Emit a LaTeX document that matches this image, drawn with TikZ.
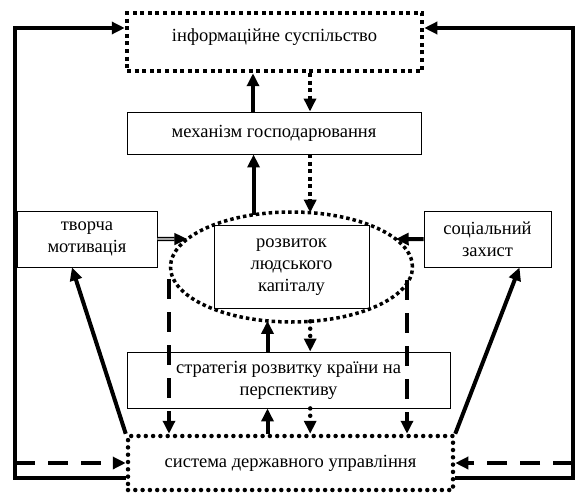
\documentclass[tikz,border=0pt]{standalone}
\usepackage{fontspec}
\setmainfont{Liberation Serif}
\usetikzlibrary{arrows.meta, shapes.geometric}

\begin{document}
\begin{tikzpicture}[x=1pt, y=-1pt, >={Triangle[width=12pt,length=13pt]},
    every node/.style={font=\fontsize{18.5}{22}\selectfont}]
  \tikzset{block/.style={draw, line width=0.9pt, inner sep=2pt, align=center},
    heavy/.style={line width=4pt},
    sqdots/.style={line width=4.5pt, dash pattern=on 4pt off 3.5pt},
    rddots/.style={line width=4.5pt, line cap=round, dash pattern=on 0pt off 7.3pt},
    longdash/.style={line width=4.5pt, dash pattern=on 20pt off 13pt}}
  \useasboundingbox (0,0) rectangle (575,497);

  \node[block, line width=4.5pt, dash pattern=on 4pt off 3.6pt, minimum width=295pt, minimum height=58pt, text height=13pt, text depth=14pt] (info) at (274.5,42) {інформаційне суспільство};
  \node[block, minimum width=294pt, minimum height=42pt] (mech) at (274,133) {механізм господарювання};
  \node[ellipse, draw, line width=3.5pt, dash pattern=on 3.5pt off 3pt, minimum width=242pt, minimum height=110pt, inner sep=0pt, outer sep=0pt] (ell) at (291.5,267) {};
  \node[block, minimum width=155pt, minimum height=83pt] (dev) at (ell.center) {розвиток\\людського\\капіталу};
  \node[block, minimum width=140pt, minimum height=56pt] (motiv) at (87,239) {творча\\мотивація};
  \node[block, minimum width=127pt, minimum height=56pt] (social) at (487.5,239) {соціальний\\захист};
  \node[block, minimum width=323pt, minimum height=56pt] (strat) at (288.5,380) {стратегія розвитку країни на\\перспективу};
  \node[block, rddots, minimum width=325pt, minimum height=54pt] (gov) at (290.5,463) {система державного управління};

  % links between the upper blocks
  \coordinate (upL) at (253,0);
  \coordinate (dnR) at (310,0);
  \draw[heavy, ->] (mech.north -| upL) -- (info.south -| upL);
  \draw[sqdots, ->] (info.south -| dnR) -- (mech.north -| dnR);
  \draw[heavy, ->] (ell.126.5) -- (ell.126.5 |- mech.south);
  \draw[sqdots, ->] (mech.south -| ell.71) -- (ell.71);

  % links between the lower blocks
  \draw[heavy, ->] (strat.north -| ell.246.5) -- (ell.246.5);
  \draw[rddots, ->] (ell.289) -- (ell.289 |- strat.north);
  \draw[heavy, ->] (gov.north -| ell.246.5) -- (ell.246.5 |- strat.south);
  \draw[rddots, ->] (strat.south -| ell.289) -- (ell.289 |- gov.north);

  % dashed links down to the government system
  \coordinate (dashL) at (169,279);
  \coordinate (dashR) at (407,280);
  \draw[longdash, ->] (dashL) -- (dashL |- gov.north);
  \draw[longdash, ->] (dashR) -- (dashR |- gov.north);

  % side blocks
  \draw[double, line width=1.5pt, double distance=1.2pt, ->] (motiv.east) -- (ell.165);
  \draw[heavy, ->] (social.west) -- (ell.15);
  \draw[heavy, ->] (gov.north west) -- ([xshift=-15pt]motiv.south);
  \draw[heavy, ->] (gov.north east) -- ([xshift=32pt]social.south);

  % outer loops
  \coordinate (loopLB) at (15,478);
  \coordinate (loopLT) at (15,28);
  \coordinate (loopRB) at (573,478);
  \coordinate (loopRT) at (573,28);
  \draw[heavy, ->] (gov.west |- loopLB) -- (loopLB) -- (loopLT) -- (loopLT -| info.west);
  \draw[heavy, ->] (gov.east |- loopRB) -- (loopRB) -- (loopRT) -- (loopRT -| info.east);
  \draw[longdash, ->] (loopLB |- gov.west) -- (gov.west);
  \draw[longdash, ->] (loopRB |- gov.east) -- (gov.east);
\end{tikzpicture}
\end{document}
